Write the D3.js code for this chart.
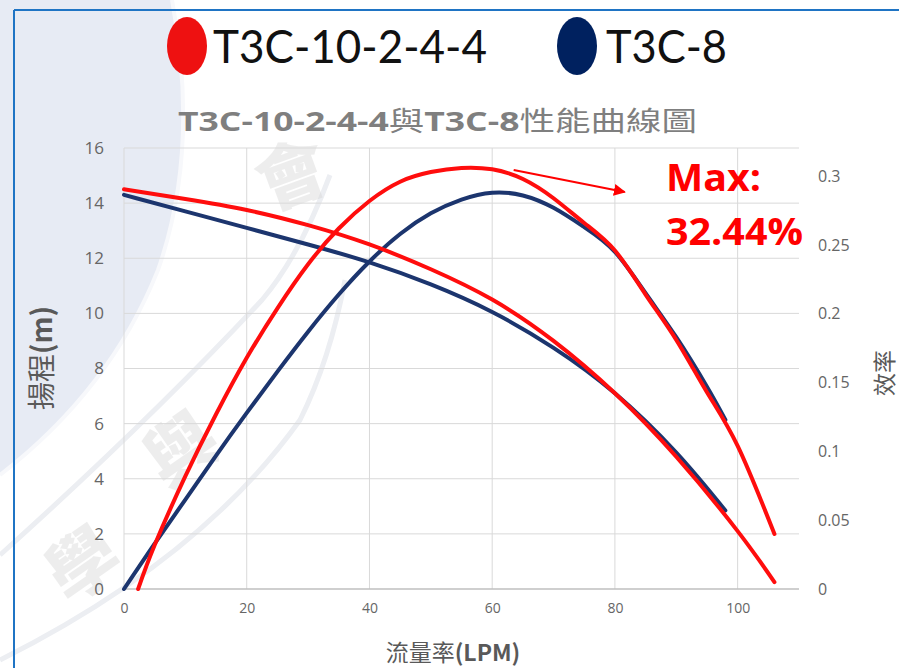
<!DOCTYPE html>
<html><head><meta charset="utf-8">
<script src="https://cdn.jsdelivr.net/npm/d3@7"></script>
<style>body{margin:0;background:#fff;}svg{display:block;}</style>
</head><body>
<svg id="c" width="899" height="668"></svg>
<script>
// ---- data ----
const seriesNames = ["T3C-10-2-4-4", "T3C-8"];
const seriesColors = ["#ff0d0d", "#1c356e"];
const legendColors = ["#ee1111", "#00215f"];
// head (m) vs flow (LPM)
const redHeadFlow = [0, 10, 20, 30, 40, 50, 60, 70, 80, 90, 100, 106];
const redHead     = [14.5, 14.15, 13.75, 13.2, 12.5, 11.6, 10.5, 9.0, 7.1, 4.8, 2.1, 0.25];
const blueHeadFlow = [0, 10, 20, 30, 40, 50, 60, 70, 80, 90, 98];
const blueHead     = [14.3, 13.7, 13.1, 12.5, 11.85, 11.05, 10.05, 8.75, 7.1, 4.95, 2.85];
// efficiency vs flow (LPM)
const redEffFlow = [2.3, 5, 10, 15, 20, 25, 30, 35, 40, 45, 50, 55, 60, 65, 70, 75, 80, 85, 90, 95, 100, 106];
const redEff     = [0, 0.032, 0.082, 0.127, 0.168, 0.204, 0.236, 0.262, 0.282, 0.296, 0.303, 0.306, 0.305, 0.298, 0.284, 0.266, 0.246, 0.214, 0.181, 0.143, 0.104, 0.04];
const blueEffFlow = [0, 5, 10, 15, 20, 25, 30, 35, 40, 45, 50, 55, 60, 65, 70, 75, 80, 85, 90, 95, 98];
const blueEff     = [0, 0.033, 0.065, 0.097, 0.128, 0.158, 0.187, 0.214, 0.238, 0.258, 0.273, 0.283, 0.288, 0.286, 0.277, 0.263, 0.245, 0.215, 0.183, 0.147, 0.123];
const xTicks = [0, 20, 40, 60, 80, 100];
const yLeftTicks = [0, 2, 4, 6, 8, 10, 12, 14, 16];
const yRightTicks = [0, 0.05, 0.1, 0.15, 0.2, 0.25, 0.3];
const titleParts = [["T3C-10-2-4-4", true], ["與", false], ["T3C-8", true], ["性能曲線圖", false]];
const annotation = ["Max:", "32.44%"];
const arrowFrom = [63.5, 0.3045], arrowTo = [81.6, 0.2885];

// ---- layout ----
const svg = d3.select("#c");
const L = 124, R = 799, T = 148, B = 589;
const x = d3.scaleLinear().domain([0, 110]).range([L, R]);
const yL = d3.scaleLinear().domain([0, 16]).range([B, T]);
const yR = d3.scaleLinear().domain([0, 0.3205]).range([B, T]);
const CJK = "'Noto Sans CJK TC','Noto Sans CJK SC',sans-serif";

// background watermark tint
svg.append("path").attr("d","M0,0 L172,0 Q200,150 158,270 Q110,390 0,475 Z").attr("fill","#e7ebf4");
svg.append("path").attr("d","M172,0 Q200,150 158,270 Q110,390 0,475").attr("fill","none").attr("stroke","#f7f8fb").attr("stroke-width",4);
svg.append("path").attr("d","M0,555 Q150,420 262,300 Q300,255 330,175").attr("fill","none").attr("stroke","#eceef2").attr("stroke-width",5);
svg.append("path").attr("d","M0,660 Q200,560 300,420 Q330,360 345,280").attr("fill","none").attr("stroke","#eceef2").attr("stroke-width",5);
const wm = [["學",80,560,-35],["與",178,445,-35],["會",290,170,-20]];
wm.forEach(w=>svg.append("text").attr("x",w[1]).attr("y",w[2]).attr("transform",`rotate(${w[3]},${w[1]},${w[2]})`)
  .attr("text-anchor","middle").attr("dominant-baseline","central").attr("font-family",CJK).attr("font-weight",900)
  .attr("font-size",70).attr("fill","#d4d4d4").attr("opacity",0.4).text(w[0]));

// frame
svg.append("line").attr("x1",14).attr("x2",899).attr("y1",10).attr("y2",10).attr("stroke","#1f74c4").attr("stroke-width",2);
svg.append("line").attr("x1",14).attr("x2",14).attr("y1",10).attr("y2",668).attr("stroke","#1f74c4").attr("stroke-width",2);

// grid
const g = svg.append("g");
g.selectAll(".hg").data(yLeftTicks.slice(1)).join("line").attr("x1",L).attr("x2",R)
  .attr("y1",d=>yL(d)).attr("y2",d=>yL(d)).attr("stroke","#d9d9d9").attr("stroke-width",1);
g.selectAll(".vg").data(xTicks.slice(1)).join("line").attr("x1",d=>x(d)).attr("x2",d=>x(d))
  .attr("y1",T).attr("y2",B).attr("stroke","#d9d9d9").attr("stroke-width",1);
g.append("line").attr("x1",L).attr("x2",L).attr("y1",T).attr("y2",B).attr("stroke","#d9d9d9");
g.append("line").attr("x1",L).attr("x2",R).attr("y1",B).attr("y2",B).attr("stroke","#bfbfbf").attr("stroke-width",1.5);

// axes labels
const ax = d3.axisBottom(x).tickValues(xTicks).tickSize(0).tickPadding(14);
const axG = svg.append("g").attr("transform",`translate(0,${B})`).call(ax);
axG.select(".domain").remove();
axG.selectAll("text").attr("font-family","'Open Sans',sans-serif").attr("font-size",14).attr("fill","#666");
const ayL = d3.axisLeft(yL).tickValues(yLeftTicks).tickSize(0).tickPadding(20);
const ayLG = svg.append("g").attr("transform",`translate(${L},0)`).call(ayL);
ayLG.select(".domain").remove();
ayLG.selectAll("text").attr("font-family","'Open Sans',sans-serif").attr("font-size",17).attr("fill","#666");
const ayR = d3.axisRight(yR).tickValues(yRightTicks).tickSize(0).tickPadding(19).tickFormat(d3.format("~g"));
const ayRG = svg.append("g").attr("transform",`translate(${R},0)`).call(ayR);
ayRG.select(".domain").remove();
ayRG.selectAll("text").attr("font-family","'Open Sans',sans-serif").attr("font-size",16).attr("fill","#666");

// axis titles
const yt = svg.append("text").attr("transform","translate(52,358) rotate(-90)").attr("text-anchor","middle")
  .attr("font-family",CJK).attr("font-size",28).attr("fill","#595959");
yt.append("tspan").text("揚程");
yt.append("tspan").attr("font-weight","bold").text("(m)");
svg.append("text").attr("transform","translate(893,373) rotate(-90)").attr("text-anchor","middle")
  .attr("font-family",CJK).attr("font-size",23).attr("fill","#595959").text("效率");
const xt = svg.append("text").attr("x",453).attr("y",661).attr("text-anchor","middle")
  .attr("font-family",CJK).attr("font-size",23).attr("fill","#595959");
xt.append("tspan").text("流量率");
xt.append("tspan").attr("font-weight","bold").text("(LPM)");

// title
const tt = svg.append("text").attr("x",178).attr("y",131).attr("font-family","'Open Sans',"+CJK)
  .attr("font-size",27).attr("fill","#7f7f7f").attr("textLength",519).attr("lengthAdjust","spacingAndGlyphs");
titleParts.forEach(p=>tt.append("tspan").attr("font-weight",p[1]?"bold":"normal").attr("font-family",p[1]?"'Open Sans'":CJK).text(p[0]));

// legend
const legX = [187, 577], legTextX = [213, 606], legLen = [274, 121];
seriesNames.forEach((n,i)=>{
  svg.append("ellipse").attr("cx",legX[i]).attr("cy",46).attr("rx",20).attr("ry",29).attr("fill",legendColors[i]);
  svg.append("text").attr("x",legTextX[i]).attr("y",63).attr("font-family","Lato,'Open Sans',sans-serif")
    .attr("font-size",47).attr("fill","#111").attr("textLength",legLen[i]).attr("lengthAdjust","spacingAndGlyphs").text(n);
});

// curves
const curve = d3.curveNatural;
function draw(xs, ys, yScale, color){
  const pts = xs.map((v,i)=>[v, ys[i]]);
  svg.append("path").datum(pts).attr("fill","none").attr("stroke",color).attr("stroke-width",4)
    .attr("stroke-linecap","round").attr("stroke-linejoin","round")
    .attr("d", d3.line().x(d=>x(d[0])).y(d=>yScale(d[1])).curve(curve));
}
draw(blueHeadFlow, blueHead, yL, seriesColors[1]);
draw(blueEffFlow, blueEff, yR, seriesColors[1]);
draw(redHeadFlow, redHead, yL, seriesColors[0]);
draw(redEffFlow, redEff, yR, seriesColors[0]);

// annotation arrow
svg.append("defs").append("marker").attr("id","ah").attr("viewBox","0 0 10 10").attr("refX",9).attr("refY",5)
  .attr("markerWidth",6).attr("markerHeight",6).attr("orient","auto")
  .append("path").attr("d","M0,0 L10,5 L0,10 Z").attr("fill","#ff0000");
svg.append("line").attr("x1",x(arrowFrom[0])).attr("y1",yR(arrowFrom[1])).attr("x2",x(arrowTo[0])).attr("y2",yR(arrowTo[1]))
  .attr("stroke","#ff0000").attr("stroke-width",2).attr("marker-end","url(#ah)");
const annLen = [95, 137];
annotation.forEach((t,i)=>svg.append("text").attr("x",666).attr("y",[191,245][i]).attr("font-family","'Open Sans',sans-serif")
  .attr("font-weight","bold").attr("font-size",37).attr("fill","#ff0000")
  .attr("textLength",annLen[i]).attr("lengthAdjust","spacingAndGlyphs").text(t));
</script>
</body></html>
